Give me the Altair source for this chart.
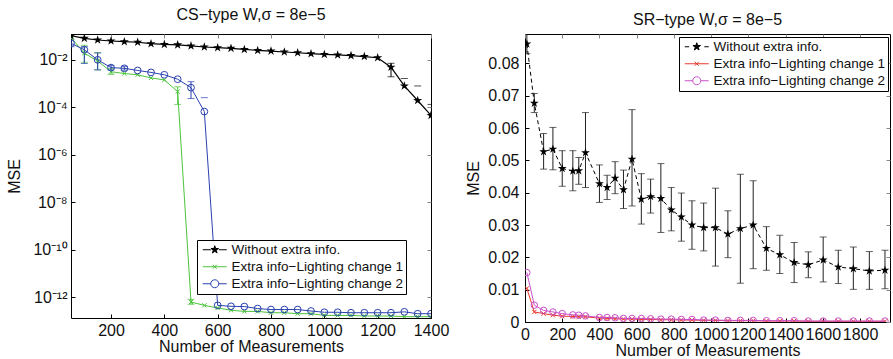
import altair as alt
import pandas as pd

FONT = "Liberation Sans"
TXT = "#111111"

# ---------------- left panel (CS-type W) ----------------
x_cs = [50, 100, 150, 200, 250, 300, 350, 400, 450, 500, 550, 600, 650, 700,
        750, 800, 850, 900, 950, 1000, 1050, 1100, 1150, 1200, 1250, 1300, 1350, 1400]
cs_without = [0.102, 0.079, 0.067, 0.061, 0.057, 0.054, 0.047, 0.044, 0.042, 0.038,
              0.034, 0.032, 0.030, 0.027, 0.0245, 0.023, 0.021, 0.0195, 0.0178, 0.0166,
              0.0158, 0.0148, 0.0135, 0.012, 0.0048, 7.8e-4, 1.9e-4, 4.5e-5]
cs_light1 = [0.085, 0.0186, 0.0088, 0.0031, 0.0026, 0.0023, 0.0017, 0.0014, 4.5e-4, 6.2e-13,
             4.5e-13, 3.5e-13, 2.8e-13, 2.5e-13, 2.5e-13, 2.2e-13, 2.2e-13, 2.0e-13, 2.0e-13, 1.7e-13,
             1.7e-13, 1.7e-13, 1.6e-13, 1.6e-13, 1.6e-13, 1.5e-13, 1.5e-13, 1.5e-13]
cs_light2 = [0.049, 0.026, 0.0098, 0.0046, 0.0043, 0.0035, 0.0029, 0.0023, 0.0015, 6.6e-4,
             6.5e-5, 4.5e-13, 4.1e-13, 4.0e-13, 3.3e-13, 3.0e-13, 3.0e-13, 3.0e-13, 2.6e-13, 2.3e-13,
             2.3e-13, 2.2e-13, 2.2e-13, 2.2e-13, 2.2e-13, 2.4e-13, 2.0e-13, 2.0e-13]

# error bars (full) and lone upper caps
cs_without_err_x = [1250]
cs_without_err_lo = [0.0019]
cs_without_err_hi = [0.007]
cs_without_cap_x = [1300, 1350, 1400]
cs_without_cap_hi = [0.0016, 7.8e-4, 1.3e-4]

cs_light1_err_x = [100, 150, 200, 450, 500]
cs_light1_err_lo = [0.0077, 0.0037, 0.0024, 1.3e-4, 5.0e-13]
cs_light1_err_hi = [0.04, 0.02, 0.0042, 7.2e-4, 8.0e-13]

cs_light2_err_x = [50, 100, 150, 200, 250, 500]
cs_light2_err_lo = [0.035, 0.0069, 0.0037, 0.0037, 0.0036, 2.3e-4]
cs_light2_err_hi = [0.068, 0.035, 0.019, 0.0056, 0.0052, 1.18e-3]
cs_light2_cap_x = [550]
cs_light2_cap_hi = [2.5e-4]

# ---------------- right panel (SR-type W) ----------------
x_sr = [10, 50, 100, 150, 200, 257, 289, 325, 400, 441, 484, 529, 575, 625, 675, 730,
        786, 840, 897, 960, 1023, 1090, 1157, 1226, 1297, 1369, 1446, 1522, 1602, 1683,
        1764, 1850, 1934]
sr_without = [0.086, 0.0677, 0.0527, 0.0535, 0.0475, 0.0467, 0.0468, 0.0524, 0.0428, 0.0416,
              0.0445, 0.0409, 0.0504, 0.038, 0.0388, 0.0382, 0.0347, 0.0325, 0.030, 0.0292,
              0.0292, 0.0272, 0.0289, 0.030, 0.0228, 0.0208, 0.0184, 0.0177, 0.0192, 0.017,
              0.0165, 0.0158, 0.016]
sr_without_hi = [0.0895, 0.0707, 0.0583, 0.0602, 0.053, 0.053, 0.0509, 0.0648, 0.0486, 0.0454,
                 0.0496, 0.047, 0.0657, 0.0459, 0.0442, 0.049, 0.0416, 0.0399, 0.0375, 0.0368,
                 0.0414, 0.0344, 0.0457, 0.0437, 0.0295, 0.0268, 0.0246, 0.0217, 0.0263, 0.0222,
                 0.0232, 0.0218, 0.0222]
sr_without_lo = [0.083, 0.0648, 0.0473, 0.0471, 0.042, 0.0406, 0.0426, 0.0416, 0.037, 0.0379,
                 0.0397, 0.0351, 0.0359, 0.0303, 0.0337, 0.0277, 0.0282, 0.025, 0.0225, 0.022,
                 0.0173, 0.0199, 0.012, 0.0165, 0.016, 0.015, 0.0122, 0.0137, 0.0124, 0.0119,
                 0.0101, 0.0101, 0.0103]
sr_light1 = [0.0104, 0.0031, 0.0026, 0.0021, 0.0018, 0.0017, 0.0016, 0.0016, 0.0012, 0.0011,
             0.0010, 0.0009, 0.0009, 0.0008, 0.0008, 0.0007, 0.0007, 0.0006, 0.0006, 0.0005,
             0.0005, 0.0004, 0.0004, 0.0004, 0.0003, 0.0003, 0.0003, 0.0002, 0.0002, 0.0002,
             0.0002, 0.0002, 0.0002]
sr_light2 = [0.0153, 0.0052, 0.0036, 0.0031, 0.0026, 0.0022, 0.0021, 0.0019, 0.0014, 0.0014,
             0.0013, 0.0011, 0.0011, 0.0011, 0.0010, 0.0009, 0.0009, 0.0008, 0.0008, 0.0006,
             0.0006, 0.0005, 0.0005, 0.0005, 0.0004, 0.0004, 0.0004, 0.0003, 0.0003, 0.0003,
             0.0003, 0.0003, 0.0003]

series_names = ["Without extra info.", "Extra info\u2212Lighting change 1",
                "Extra info\u2212Lighting change 2"]
cs_ticks_x = [200, 400, 600, 800, 1000, 1200, 1400]
cs_ticks_y = [1e-12, 1e-10, 1e-8, 1e-6, 1e-4, 1e-2]
sr_ticks_x = [0, 200, 400, 600, 800, 1000, 1200, 1400, 1600, 1800]
sr_ticks_y = [0, 0.01, 0.02, 0.03, 0.04, 0.05, 0.06, 0.07, 0.08]

# ---------------- marker shapes ----------------
STAR = ("M0,-1L0.2245,-0.309L0.951,-0.309L0.3633,0.118L0.5878,0.809L0,0.382"
        "L-0.5878,0.809L-0.3633,0.118L-0.951,-0.309L-0.2245,-0.309Z")
XMARK = "M-1,-1L1,1M-1,1L1,-1"
LEG_STAR = ("M2,-1L2.2245,-0.309L2.951,-0.309L2.3633,0.118L2.5878,0.809L2,0.382"
            "L1.4122,0.809L1.6367,0.118L1.049,-0.309L1.7755,-0.309Z")
LEG_STAR_SOLID = "M-1,0L1,0M3,0L5,0" + LEG_STAR
LEG_STAR_DASH = "M-1,0L0.1,0M3.9,0L5,0" + LEG_STAR
LEG_X = "M-1,0L5,0M1.5,-0.5L2.5,0.5M1.5,0.5L2.5,-0.5"
LEG_O = "M-1,0L1,0M3,0L5,0M3,0A1,1,0,1,1,1,0A1,1,0,1,1,3,0Z"


def errbars(x, lo, hi, color, xs, ys):
    df = pd.DataFrame({"x": x, "y": lo, "y2": hi})
    base = alt.Chart(df)
    rule = base.mark_rule(color=color, strokeWidth=1, clip=True).encode(
        x=alt.X("x:Q", scale=xs, axis=None), y=alt.Y("y:Q", scale=ys, axis=None), y2="y2:Q")
    lo_cap = base.mark_tick(color=color, orient="horizontal", size=7, thickness=1, clip=True).encode(
        x=alt.X("x:Q", scale=xs, axis=None), y=alt.Y("y:Q", scale=ys, axis=None))
    hi_cap = base.mark_tick(color=color, orient="horizontal", size=7, thickness=1, clip=True).encode(
        x=alt.X("x:Q", scale=xs, axis=None), y=alt.Y("y2:Q", scale=ys, axis=None))
    return [rule, lo_cap, hi_cap]


def caps(x, hi, color, xs, ys):
    df = pd.DataFrame({"x": x, "y": hi})
    return [alt.Chart(df).mark_tick(color=color, orient="horizontal", size=7, thickness=1,
                                    clip=True).encode(
        x=alt.X("x:Q", scale=xs, axis=None), y=alt.Y("y:Q", scale=ys, axis=None))]


def series(x, y, color, shape, size, filled, xs, ys, dash=None, sw=1.0):
    df = pd.DataFrame({"x": x, "y": y})
    lkw = dict(color=color, strokeWidth=sw, clip=True)
    if dash:
        lkw["strokeDash"] = dash
    line = alt.Chart(df).mark_line(**lkw).encode(
        x=alt.X("x:Q", scale=xs, axis=None), y=alt.Y("y:Q", scale=ys, axis=None))
    pts = alt.Chart(df).mark_point(shape=shape, size=size, filled=filled, color=color,
                                   strokeWidth=1, opacity=1, clip=True).encode(
        x=alt.X("x:Q", scale=xs, axis=None), y=alt.Y("y:Q", scale=ys, axis=None))
    return [line, pts]


def frame_layers(xs, ys, x_axis, y_axis, xvals, yvals, legend, paths, fills, strokes, x0, y0):
    """Axes (bottom/left with labels, top/right ticks only) and the legend."""
    df = pd.DataFrame({"x": [x0] * 3, "y": [y0] * 3, "series": series_names})
    main_axes = alt.Chart(df).transform_filter("false").mark_point().encode(
        x=alt.X("x:Q", scale=xs, axis=x_axis), y=alt.Y("y:Q", scale=ys, axis=y_axis))
    top_right = alt.Chart(df).transform_filter("false").mark_point(opacity=1, strokeWidth=1).encode(
        x=alt.X("x:Q", scale=xs, axis=alt.Axis(orient="top", values=xvals, labels=False,
                                               ticks=True, tickSize=4, offset=-4, domain=False,
                                               grid=False, title=None)),
        y=alt.Y("y:Q", scale=ys, axis=alt.Axis(orient="right", values=yvals, labels=False,
                                               ticks=True, tickSize=4, offset=-4, domain=False,
                                               grid=False, title=None)),
        shape=alt.Shape("series:N", scale=alt.Scale(domain=series_names, range=paths), legend=legend),
        fill=alt.Fill("series:N", scale=alt.Scale(domain=series_names, range=fills), legend=legend),
        stroke=alt.Stroke("series:N", scale=alt.Scale(domain=series_names, range=strokes), legend=legend),
    )
    return [main_axes, top_right]


def make_legend(lx, ly):
    return alt.Legend(orient="none", legendX=lx, legendY=ly, title=None,
                      strokeColor="black", fillColor="white", padding=3,
                      labelFont=FONT, labelFontSize=13.5, labelColor=TXT, labelOffset=18,
                      symbolSize=64, symbolStrokeWidth=1, rowPadding=2, labelLimit=400)


AX = dict(labelFont=FONT, labelFontSize=16, labelColor=TXT, titleFont=FONT, titleFontSize=16,
          titleFontWeight="normal", titleColor=TXT, tickColor="black", tickWidth=1,
          domain=False, grid=False, tickSize=4, offset=-4, labelFlush=False, labelOverlap=False)

# ---------------- left chart ----------------
GREEN = "#4cc43c"
BLUE = "#2a41b0"
xs_l = alt.Scale(domain=[50, 1400], nice=False, zero=False)
ys_l = alt.Scale(type="log", domain=[1.32e-13, 0.12], nice=False)

ylab_expr = ("datum.value > 5e-3 ? '10\u207b\u00b2' : datum.value > 5e-5 ? '10\u207b\u2074' : "
             "datum.value > 5e-7 ? '10\u207b\u2076' : datum.value > 5e-9 ? '10\u207b\u2078' : "
             "datum.value > 5e-11 ? '10\u207b\u00b9\u2070' : '10\u207b\u00b9\u00b2'")

x_axis_l = alt.Axis(orient="bottom", values=cs_ticks_x, format="d", labelPadding=4,
                    title="Number of Measurements", titlePadding=0, **AX)
y_axis_l = alt.Axis(orient="left", values=cs_ticks_y, labelExpr=ylab_expr, labelPadding=4,
                    title="MSE", titlePadding=10, **AX)

left_layers = []
left_layers += errbars(cs_light1_err_x, cs_light1_err_lo, cs_light1_err_hi, GREEN, xs_l, ys_l)
left_layers += errbars(cs_light2_err_x, cs_light2_err_lo, cs_light2_err_hi, BLUE, xs_l, ys_l)
left_layers += caps(cs_light2_cap_x, cs_light2_cap_hi, BLUE, xs_l, ys_l)
left_layers += errbars(cs_without_err_x, cs_without_err_lo, cs_without_err_hi, "black", xs_l, ys_l)
left_layers += caps(cs_without_cap_x, cs_without_cap_hi, "black", xs_l, ys_l)
left_layers += series(x_cs, cs_light1, GREEN, XMARK, 18, False, xs_l, ys_l)
left_layers += series(x_cs, cs_light2, BLUE, "circle", 46, False, xs_l, ys_l)
left_layers += series(x_cs, cs_without, "black", STAR, 90, True, xs_l, ys_l, sw=1.2)
left_layers += frame_layers(xs_l, ys_l, x_axis_l, y_axis_l, cs_ticks_x, cs_ticks_y,
                            make_legend(126, 206),
                            [LEG_STAR_SOLID, LEG_X, LEG_O],
                            ["black", "transparent", "transparent"],
                            ["black", GREEN, BLUE], 500, 1e-5)

left = alt.layer(*left_layers).resolve_axis(x="independent", y="independent").properties(
    width=360, height=284,
    title=alt.TitleParams("CS\u2212type W,\u03c3 = 8e\u22125", offset=11, fontSize=16,
                          fontWeight="normal", font=FONT, color=TXT))

# ---------------- right chart ----------------
RED = "#e8392c"
MAG = "#c94fc9"
xs_r = alt.Scale(domain=[0, 1961], nice=False, zero=False)
ys_r = alt.Scale(domain=[0, 0.0891], nice=False, zero=False)

x_axis_r = alt.Axis(orient="bottom", values=sr_ticks_x, format="d", labelPadding=4,
                    title="Number of Measurements", titlePadding=0, **AX)
y_axis_r = alt.Axis(orient="left", values=sr_ticks_y,
                    labelExpr="datum.value == 0 ? '0' : format(datum.value, '.2f')",
                    labelPadding=6, title="MSE", titlePadding=6, **AX)

right_layers = []
right_layers += errbars(x_sr, sr_without_lo, sr_without_hi, "#222222", xs_r, ys_r)
right_layers += series(x_sr, sr_light1, RED, XMARK, 18, False, xs_r, ys_r)
right_layers += series(x_sr, sr_light2, MAG, "circle", 42, False, xs_r, ys_r)
right_layers += series(x_sr, sr_without, "black", STAR, 85, True, xs_r, ys_r, dash=[4, 3])
right_layers += frame_layers(xs_r, ys_r, x_axis_r, y_axis_r, sr_ticks_x, sr_ticks_y,
                             make_legend(154, 3),
                             [LEG_STAR_DASH, LEG_X, LEG_O],
                             ["black", "transparent", "transparent"],
                             ["black", RED, MAG], 500, 0.05)

right = alt.layer(*right_layers).resolve_axis(x="independent", y="independent").properties(
    width=365, height=288,
    title=alt.TitleParams("SR\u2212type W,\u03c3 = 8e\u22125", offset=6, fontSize=16,
                          fontWeight="normal", font=FONT, color=TXT))

chart = alt.hconcat(left, right, spacing=15).resolve_scale(
    shape="independent", fill="independent", stroke="independent"
).resolve_legend(
    shape="independent", fill="independent", stroke="independent"
).properties(
    padding={"left": 6, "top": 6, "right": 0, "bottom": 0}
).configure_view(stroke="black", strokeWidth=1)

chart.save("out.html", embed_options={"renderer": "svg", "actions": False})
